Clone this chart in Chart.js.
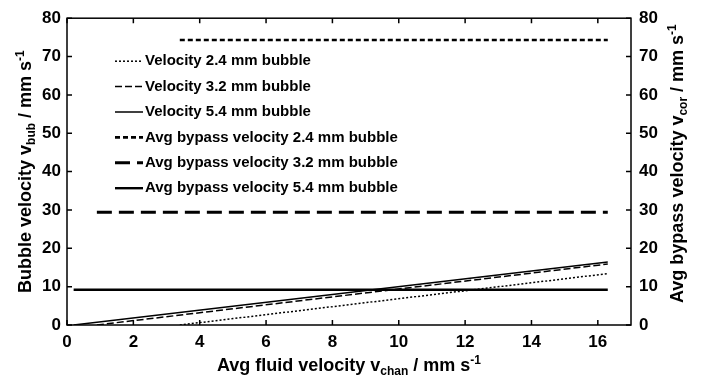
<!DOCTYPE html>
<html>
<head>
<meta charset="utf-8">
<script src="https://cdn.jsdelivr.net/npm/chart.js@4"></script>
<style>
  body { margin: 0; background: #fff; }
  #wrap { width: 704px; height: 382px; position: relative; }
</style>
</head>
<body>
<div id="wrap"><canvas id="chart"></canvas></div>
<script>
// series (x = avg fluid velocity, y = velocity, mm/s)
const labels = [
  'Velocity 2.4 mm bubble',
  'Velocity 3.2 mm bubble',
  'Velocity 5.4 mm bubble',
  'Avg bypass velocity 2.4 mm bubble',
  'Avg bypass velocity 3.2 mm bubble',
  'Avg bypass velocity 5.4 mm bubble'
];
const xBub24 = [3.4, 16.3];
const xBub32 = [0.9, 16.3];
const xBub54 = [0.2, 16.3];
const vBub24 = [0, 13.4];
const vBub32 = [0, 15.9];
const vBub54 = [0, 16.4];
const vCor24 = [74.3, 74.3];
const vCor32 = [29.4, 29.4];
const vCor54 = [9.2, 9.2];
const xTicks = [0, 2, 4, 6, 8, 10, 12, 14, 16];
const yTicks = [0, 10, 20, 30, 40, 50, 60, 70, 80];

const FONT = "'Liberation Sans', Arial, sans-serif";

function pts(xs, ys) {
  return xs.map((x, i) => ({ x: x, y: ys[i] }));
}

function line(label, data, width, dash, axis) {
  return {
    label: label,
    data: data,
    yAxisID: axis,
    borderColor: '#000',
    borderWidth: width,
    borderDash: dash,
    pointRadius: 0,
    fill: false,
    tension: 0
  };
}

// text with sub/superscript parts, centred at (cx, cy), optional rotation
function richText(ctx, parts, cx, cy, rot) {
  const big = 'bold 18px ' + FONT, small = 'bold 12px ' + FONT;
  let w = 0;
  parts.forEach(p => { ctx.font = p[1] ? small : big; w += ctx.measureText(p[0]).width; });
  ctx.save();
  ctx.translate(cx, cy);
  ctx.rotate(rot || 0);
  ctx.fillStyle = '#000';
  ctx.textBaseline = 'middle';
  ctx.textAlign = 'left';
  let x = -w / 2;
  parts.forEach(p => {
    ctx.font = p[1] ? small : big;
    const dy = p[1] === 'sub' ? 6 : (p[1] === 'sup' ? -5 : 0);
    ctx.fillText(p[0], x, dy);
    x += ctx.measureText(p[0]).width;
  });
  ctx.restore();
}

const decor = {
  id: 'decor',
  afterDraw(chart) {
    const ctx = chart.ctx;
    const { left, right, top, bottom } = chart.chartArea;
    const sx = chart.scales.x, sy = chart.scales.y, sy2 = chart.scales.y2;
    ctx.save();
    ctx.strokeStyle = '#000';
    ctx.lineWidth = 1.5;
    ctx.setLineDash([]);
    ctx.strokeRect(left, top, right - left, bottom - top);
    ctx.beginPath();
    xTicks.forEach(v => {
      const px = sx.getPixelForValue(v);
      ctx.moveTo(px, bottom); ctx.lineTo(px, bottom - 5);
      ctx.moveTo(px, top); ctx.lineTo(px, top + 5);
    });
    yTicks.forEach(v => {
      const py = sy.getPixelForValue(v);
      ctx.moveTo(left, py); ctx.lineTo(left + 5, py);
      const py2 = sy2.getPixelForValue(v);
      ctx.moveTo(right, py2); ctx.lineTo(right - 5, py2);
    });
    ctx.stroke();

    // legend inside the axes
    chart.data.datasets.forEach((ds, i) => {
      const y = top + 43 + i * 25.4;
      ctx.beginPath();
      ctx.lineWidth = ds.borderWidth;
      ctx.setLineDash(ds.borderDash);
      ctx.moveTo(left + 48, y);
      ctx.lineTo(left + 76, y);
      ctx.stroke();
      ctx.setLineDash([]);
      ctx.fillStyle = '#000';
      ctx.font = 'bold 15px ' + FONT;
      ctx.textBaseline = 'middle';
      ctx.fillText(ds.label, left + 78, y);
    });
    ctx.restore();

    richText(ctx, [['Avg fluid velocity v'], ['chan', 'sub'], [' / mm s'], ['-1', 'sup']],
      (left + right) / 2, 366, 0);
    richText(ctx, [['Bubble velocity v'], ['bub', 'sub'], [' / mm s'], ['-1', 'sup']],
      26, (top + bottom) / 2, -Math.PI / 2);
    richText(ctx, [['Avg bypass velocity v'], ['cor', 'sub'], [' / mm s'], ['-1', 'sup']],
      678, (top + bottom) / 2 - 8, -Math.PI / 2);
  }
};

const tickFont = { family: FONT, size: 17, weight: 'bold' };

new Chart(document.getElementById('chart'), {
  type: 'line',
  data: {
    datasets: [
      line(labels[0], pts(xBub24, vBub24), 1.5, [2, 2], 'y'),
      line(labels[1], pts(xBub32, vBub32), 1.5, [7, 3], 'y'),
      line(labels[2], pts(xBub54, vBub54), 1.5, [], 'y'),
      line(labels[3], pts(xBub24, vCor24), 2.6, [5, 3], 'y2'),
      line(labels[4], pts(xBub32, vCor32), 3, [15, 7], 'y2'),
      line(labels[5], pts(xBub54, vCor54), 2.4, [], 'y2')
    ]
  },
  options: {
    responsive: true,
    maintainAspectRatio: false,
    animation: false,
    layout: { padding: { top: 14, left: 0, right: 0, bottom: 0 } },
    plugins: { legend: { display: false }, tooltip: { enabled: false } },
    scales: {
      x: {
        type: 'linear', min: 0, max: 17,
        grid: { display: false, drawTicks: false },
        border: { display: false },
        ticks: { font: tickFont, color: '#000', padding: 7, maxRotation: 0 },
        afterBuildTicks: s => { s.ticks = xTicks.map(v => ({ value: v })); },
        afterFit: s => { s.height = 57; }
      },
      y: {
        type: 'linear', position: 'left', min: 0, max: 80,
        grid: { display: false, drawTicks: false },
        border: { display: false },
        ticks: { font: tickFont, color: '#000', padding: 6 },
        afterBuildTicks: s => { s.ticks = yTicks.map(v => ({ value: v })); },
        afterFit: s => { s.width = 67; }
      },
      y2: {
        type: 'linear', position: 'right', min: 0, max: 80,
        grid: { display: false, drawTicks: false },
        border: { display: false },
        ticks: { font: tickFont, color: '#000', padding: 8 },
        afterBuildTicks: s => { s.ticks = yTicks.map(v => ({ value: v })); },
        afterFit: s => { s.width = 73; }
      }
    }
  },
  plugins: [decor]
});
</script>
</body>
</html>
